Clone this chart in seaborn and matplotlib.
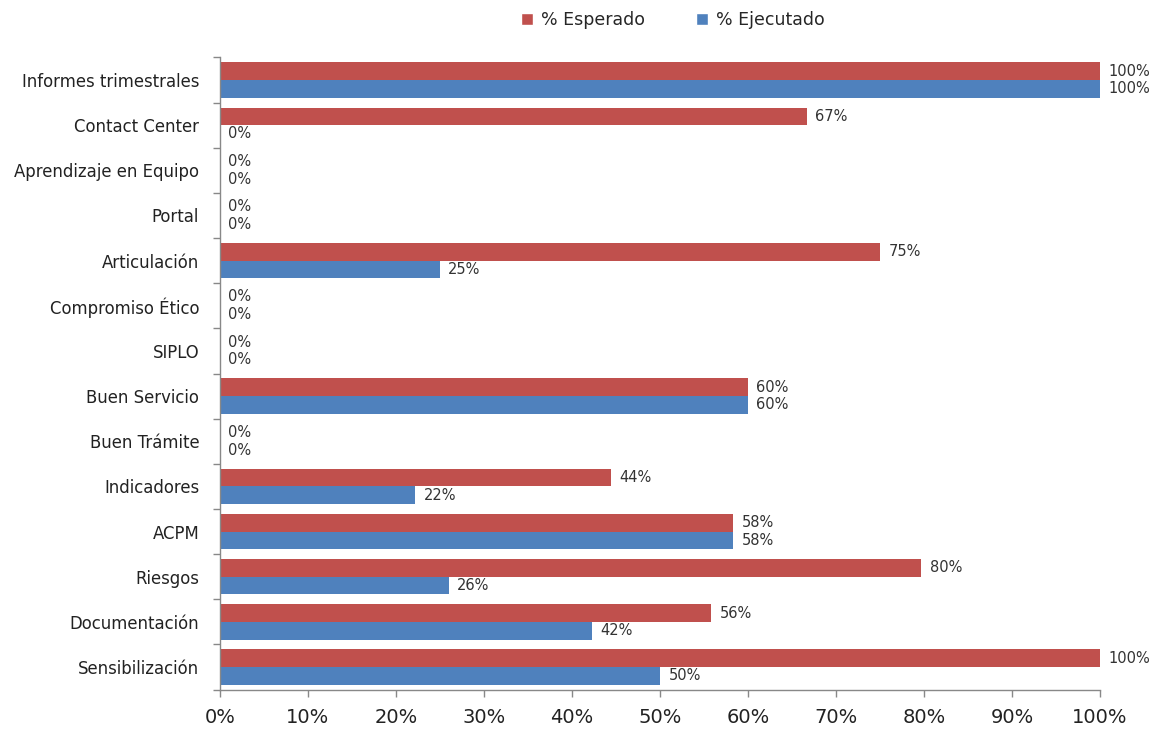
import matplotlib
matplotlib.use("Agg")
import matplotlib.pyplot as plt
import seaborn as sns
import pandas as pd
import numpy as np
from matplotlib.patches import Patch

categories = ["Informes trimestrales", "Contact Center", "Aprendizaje en Equipo", "Portal",
              "Articulación", "Compromiso Ético", "SIPLO", "Buen Servicio", "Buen Trámite",
              "Indicadores", "ACPM", "Riesgos", "Documentación", "Sensibilización"]
esperado = [100, 66.7, 0, 0, 75, 0, 0, 60, 0, 44.4, 58.3, 79.7, 55.8, 100]
ejecutado = [100, 0, 0, 0, 25, 0, 0, 60, 0, 22.2, 58.3, 26.0, 42.3, 50]
series_names = ["% Esperado", "% Ejecutado"]
x_ticks = [0, 10, 20, 30, 40, 50, 60, 70, 80, 90, 100]

df = pd.DataFrame({
    "cat": categories * 2,
    "val": esperado + ejecutado,
    "serie": [series_names[0]] * len(categories) + [series_names[1]] * len(categories),
})

sns.set_theme(style="white")
plt.rcParams["font.family"] = ["DejaVu Sans"]

colors = {"% Esperado": "#C0504D", "% Ejecutado": "#4F81BD"}

fig = plt.figure(figsize=(11.56, 7.30), dpi=100)
ax = fig.add_axes([0.1903, 0.0553, 0.9516 - 0.1903, 0.9214 - 0.0553])

sns.barplot(data=df, y="cat", x="val", hue="serie", order=categories,
            hue_order=series_names, palette=colors, orient="h", width=0.78,
            ax=ax, legend=False, saturation=1, linewidth=0)

for cont in ax.containers:
    ax.bar_label(cont, labels=[f"{v:.0f}%" for v in cont.datavalues],
                 padding=6, fontsize=10.5, color="#333333")

ax.set_xlim(0, 100)
ax.set_ylim(len(categories) - 0.5, -0.5)
ax.set_xticks(x_ticks)
ax.set_xticklabels([f"{t}%" for t in x_ticks], fontsize=14, color="#222222")
ax.set_yticks(range(len(categories)))
ax.set_yticklabels(categories, fontsize=11.9, color="#222222")
ax.set_yticks(np.arange(-0.5, len(categories), 1), minor=True)
ax.tick_params(axis="y", which="major", length=0, pad=15)
ax.tick_params(axis="y", which="minor", left=True, length=5, color="#888888", width=1)
ax.tick_params(axis="x", which="major", bottom=True, length=5, color="#888888", width=1, pad=8)
ax.set_xlabel("")
ax.set_ylabel("")

for s in ["top", "right"]:
    ax.spines[s].set_visible(False)
for s in ["left", "bottom"]:
    ax.spines[s].set_color("#888888")
    ax.spines[s].set_linewidth(1)

handles = [Patch(facecolor=colors[n], label=n) for n in series_names]
fig.legend(handles=handles, loc="center", bbox_to_anchor=(0.582, 0.972), ncol=2,
           frameon=False, fontsize=12.5, handlelength=0.7, handleheight=0.7,
           handletextpad=0.45, columnspacing=2.9)

fig.savefig("out.png", dpi=100, facecolor="white")
